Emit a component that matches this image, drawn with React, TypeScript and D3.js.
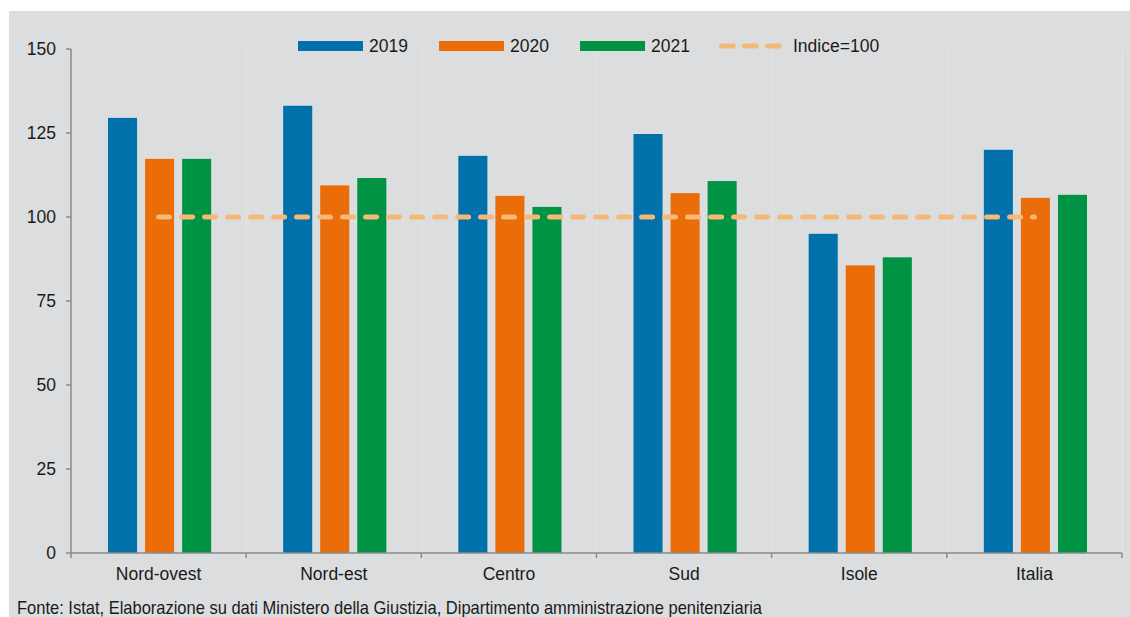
import React from "react";
import * as d3 from "d3";

const categories = ["Nord-ovest", "Nord-est", "Centro", "Sud", "Isole", "Italia"];
const years = ["2019", "2020", "2021"];
const values2019 = [129.5, 133.1, 118.2, 124.7, 95.0, 120.0];
const values2020 = [117.3, 109.4, 106.3, 107.1, 85.6, 105.7];
const values2021 = [117.3, 111.6, 103.0, 110.7, 88.0, 106.6];
const indexValue = 100;
const indexLabel = "Indice=100";
const yTicks = [0, 25, 50, 75, 100, 125, 150];
const colors = ["#0071AA", "#EB6D0A", "#009343"];
const dashColor = "#F6B877";
const source = "Fonte: Istat, Elaborazione su dati Ministero della Giustizia, Dipartimento amministrazione penitenziaria";

export default function App() {
  const W = 1130, H = 617;
  const left = 71, right = 1122, top = 49, bottom = 553;
  const x = d3.scaleBand<string>().domain(categories).range([left, right]).paddingInner(0).paddingOuter(0);
  const y = d3.scaleLinear().domain([0, 150]).range([bottom, top]);
  const inner = d3.scaleBand<string>().domain(years).range([37, x.bandwidth() - 35]).paddingInner(0.216).paddingOuter(0);
  const series = [values2019, values2020, values2021];
  const font = "'Liberation Sans', Arial, sans-serif";
  const fs = 17.5;
  const bounds = categories.map((c) => x(c) as number).concat([right]);
  const firstC = (x(categories[0]) as number) + x.bandwidth() / 2;
  const lastC = (x(categories[categories.length - 1]) as number) + x.bandwidth() / 2;
  const legendItems = [
    { label: years[0], x: 298, color: colors[0], dash: false },
    { label: years[1], x: 439, color: colors[1], dash: false },
    { label: years[2], x: 580, color: colors[2], dash: false },
    { label: indexLabel, x: 719, color: dashColor, dash: true },
  ];
  return (
    <svg width={W} height={H} style={{ position: "absolute", left: 0, top: 0 }}>
      <rect x={0} y={0} width={W} height={H} fill="#ffffff" />
      <rect x={9} y={11} width={W - 9} height={H - 11} fill="#DCDDDF" />
      {bounds.slice(1).map((b, i) => (
        <line key={"g" + i} x1={b + 0.5} x2={b + 0.5} y1={top} y2={bottom} stroke="#E4E4E6" strokeWidth={1} />
      ))}
      {categories.map((c, ci) =>
        series.map((s, si) => (
          <rect
            key={c + si}
            x={(x(c) as number) + (inner(years[si]) as number)}
            y={y(s[ci])}
            width={inner.bandwidth()}
            height={bottom - y(s[ci])}
            fill={colors[si]}
          />
        ))
      )}
      <line x1={firstC} x2={lastC} y1={y(indexValue)} y2={y(indexValue)} stroke={dashColor} strokeWidth={5}
        strokeDasharray="11 12" strokeLinecap="round" />
      <line x1={left} x2={left} y1={top} y2={bottom} stroke="#8A8A8A" strokeWidth={1.5} />
      <line x1={left} x2={right} y1={bottom} y2={bottom} stroke="#8A8A8A" strokeWidth={1.5} />
      {yTicks.map((t) => (
        <g key={"t" + t}>
          <line x1={left - 5} x2={left} y1={y(t)} y2={y(t)} stroke="#8A8A8A" strokeWidth={1.5} />
          <text x={56} y={y(t)} dy="0.35em" textAnchor="end" fontFamily={font} fontSize={fs} fill="#1a1a1a">{t}</text>
        </g>
      ))}
      {bounds.map((b, i) => (
        <line key={"xt" + i} x1={b} x2={b} y1={bottom} y2={bottom + 5} stroke="#8A8A8A" strokeWidth={1.5} />
      ))}
      {categories.map((c) => (
        <text key={"l" + c} x={(x(c) as number) + x.bandwidth() / 2} y={573.5} dy="0.35em" textAnchor="middle"
          fontFamily={font} fontSize={fs} fill="#1a1a1a">{c}</text>
      ))}
      {legendItems.map((it) => (
        <g key={it.label}>
          {it.dash ? (
            <line x1={it.x + 2.5} x2={it.x + 60} y1={46} y2={46} stroke={it.color} strokeWidth={5}
              strokeDasharray="11.7 11.3" strokeLinecap="round" />
          ) : (
            <rect x={it.x} y={41} width={65} height={10} fill={it.color} />
          )}
          <text x={it.dash ? 793 : it.x + 71} y={46} dy="0.35em" fontFamily={font} fontSize={fs} fill="#1a1a1a">{it.label}</text>
        </g>
      ))}
      <text x={17} y={614} fontFamily="'Liberation Sans', Arial, sans-serif" fontSize={18.5}
        textLength={745} lengthAdjust="spacingAndGlyphs" fill="#1a1a1a">{source}</text>
    </svg>
  );
}
